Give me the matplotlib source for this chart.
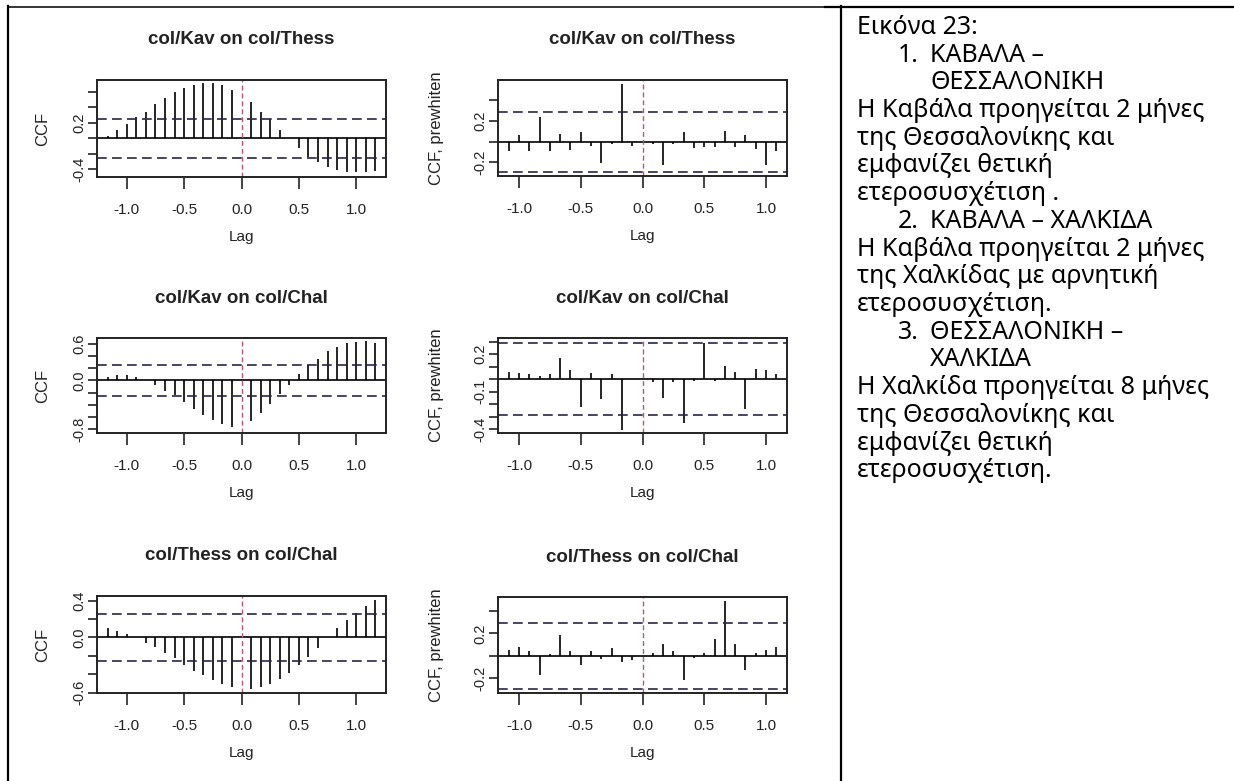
'''
Cross-correlation plots (plain and prewhitened) of the colour series for
Kavala, Thessaloniki and Chalkida, set in a two-cell table with the notes
that go with them.
'''

import numpy as np
import matplotlib
matplotlib.use('Agg')
import matplotlib.pyplot as plt
from matplotlib.lines import Line2D

plt.rcParams['lines.scale_dashes'] = False
plt.rcParams['font.family'] = ['Liberation Sans', 'DejaVu Sans']

W, H = 1234, 781

# lags in years (monthly data)
lags_ccf = np.arange(-14, 15) / 12.0
lags_pw = np.arange(-13, 14) / 12.0

nan = np.nan
ccf_kav_thess = [0.03, 0.11, 0.18, 0.27, 0.34, 0.44, 0.52, 0.60, 0.65, 0.69,
                 0.71, 0.71, 0.69, 0.63, nan, 0.47, 0.34, 0.25, 0.11, 0.005,
                 -0.12, -0.24, -0.31, -0.37, -0.41, -0.44, -0.44, -0.44, -0.42]
pw_kav_thess = [-0.095, 0.063, -0.095, 0.24, -0.095, 0.073, -0.08, 0.092,
                -0.038, -0.203, -0.02, 0.55, -0.038, nan, -0.02, -0.222,
                -0.02, 0.089, -0.063, -0.054, -0.054, 0.105, -0.054, 0.063,
                -0.076, -0.222, -0.092]
ccf_kav_chal = [0.055, 0.08, 0.08, 0.055, 0.005, -0.08, -0.18, -0.245, -0.36,
                -0.47, -0.56, -0.65, -0.71, -0.76, nan, -0.67, -0.53, -0.38,
                -0.22, -0.08, 0.10, 0.256, 0.355, 0.475, 0.545, 0.61, 0.627,
                0.638, 0.61]
pw_kav_chal = [0.061, 0.048, 0.04, 0.029, 0.04, 0.167, 0.074, -0.225, 0.048,
               -0.159, 0.04, -0.403, 0.003, nan, -0.024, -0.146, -0.024, -0.35,
               -0.013, 0.294, -0.013, 0.106, 0.061, -0.239, 0.082, 0.074, 0.04]
ccf_thess_chal = [0.098, 0.069, 0.033, 0.003, -0.058, -0.102, -0.164, -0.222,
                  -0.302, -0.364, -0.404, -0.465, -0.502, -0.538, nan, -0.556,
                  -0.538, -0.502, -0.455, -0.382, -0.302, -0.211, -0.113,
                  0.003, 0.098, 0.189, 0.262, 0.342, 0.407]
pw_thess_chal = [0.056, 0.08, 0.041, -0.166, 0.015, 0.184, 0.041, -0.077,
                 0.041, -0.03, 0.071, -0.053, -0.039, nan, 0.03, 0.104, 0.041,
                 -0.216, -0.018, 0.03, 0.154, 0.489, 0.104, -0.127, 0.03,
                 0.056, 0.08]

panel_titles = ['col/Kav on col/Thess', 'col/Kav on col/Thess',
                'col/Kav on col/Chal', 'col/Kav on col/Chal',
                'col/Thess on col/Chal', 'col/Thess on col/Chal']
panel_ylabels = ['CCF', 'CCF, prewhiten'] * 3
ci_levels = [0.255, 0.287, 0.255, 0.287, 0.255, 0.29]
y_limits = [(-0.50, 0.755), (-0.33, 0.59), (-0.862, 0.693),
            (-0.43, 0.33), (-0.604, 0.451), (-0.329, 0.524)]
y_ticks = [[-0.4, -0.2, 0.0, 0.2, 0.4, 0.6],
           [-0.2, 0.0, 0.2, 0.4],
           [-0.8, -0.6, -0.4, -0.2, 0.0, 0.2, 0.4, 0.6],
           [-0.4, -0.3, -0.2, -0.1, 0.0, 0.1, 0.2, 0.3],
           [-0.6, -0.4, -0.2, 0.0, 0.2, 0.4],
           [-0.2, 0.0, 0.2, 0.4]]
y_ticklabels = [['-0.4', '', '', '0.2', '', ''],
                ['-0.2', '', '0.2', ''],
                ['-0.8', '', '', '', '0.0', '', '', '0.6'],
                ['-0.4', '', '', '-0.1', '', '', '0.2', ''],
                ['-0.6', '', '', '0.0', '', '0.4'],
                ['-0.2', '', '0.2', '']]
x_ticks = [-1.0, -0.5, 0.0, 0.5, 1.0]
x_ticklabels = ['-1.0', '-0.5', '0.0', '0.5', '1.0']

notes = [
    (0, '', 'Εικόνα 23:'),
    (1, '1.', 'ΚΑΒΑΛΑ –'),
    (1, '', 'ΘΕΣΣΑΛΟΝΙΚΗ'),
    (0, '', 'Η Καβάλα προηγείται 2 μήνες'),
    (0, '', 'της Θεσσαλονίκης και'),
    (0, '', 'εμφανίζει θετική'),
    (0, '', 'ετεροσυσχέτιση .'),
    (1, '2.', 'ΚΑΒΑΛΑ – ΧΑΛΚΙΔΑ'),
    (0, '', 'Η Καβάλα προηγείται 2 μήνες'),
    (0, '', 'της Χαλκίδας με αρνητική'),
    (0, '', 'ετεροσυσχέτιση.'),
    (1, '3.', 'ΘΕΣΣΑΛΟΝΙΚΗ –'),
    (1, '', 'ΧΑΛΚΙΔΑ'),
    (0, '', 'Η Χαλκίδα προηγείται 8 μήνες'),
    (0, '', 'της Θεσσαλονίκης και'),
    (0, '', 'εμφανίζει θετική'),
    (0, '', 'ετεροσυσχέτιση.'),
]

# plot boxes in pixels: left, top, right, bottom
boxes = [(97, 80, 386, 177), (498, 80, 787, 176),
         (97, 338, 386, 433), (498, 338, 787, 433),
         (97, 596, 386, 693), (498, 597, 787, 693)]

INK = '#222222'


def fig_x(px):
    return px / W


def fig_y(py):
    return 1 - py / H


def drawCCF(fig, box, lags, values, ci, title, ylabel, ylim, yticks, yticklabels):
    '''
    Draws one R-style cross-correlation panel: vertical bars per lag, zero
    line, dashed confidence bounds and a red dashed marker at lag zero.
    '''
    x0, y0, x1, y1 = box
    bw, bh = x1 - x0, y1 - y0
    ax = fig.add_axes([fig_x(x0), fig_y(y1), bw / W, bh / H])

    values = np.asarray(values, dtype=float)
    keep = ~np.isnan(values)
    ax.vlines(lags[keep], 0, values[keep], colors='black', lw=1.2)
    ax.axhline(0, color='black', lw=1.2)
    for c in (ci, -ci):
        ax.axhline(c, color='#26264a', lw=1.2, dashes=(7.0, 3.8))
    ax.axvline(0, color='#c9506a', lw=1.0, dashes=(3.5, 2.2))

    span = lags.max() - lags.min()
    ax.set_xlim(lags.min() - 0.04 * span, lags.max() + 0.04 * span)
    ax.set_ylim(*ylim)

    ax.set_xticks(x_ticks)
    ax.set_xticklabels(x_ticklabels)
    ax.set_yticks(yticks)
    ax.set_yticklabels(yticklabels, rotation=90, va='center')
    ax.tick_params(axis='x', length=8.5, width=1.2, pad=10.5, labelsize=11,
                   color=INK, labelcolor=INK)
    ax.tick_params(axis='y', length=6.5, width=1.2, pad=1.0, labelsize=10.5,
                   color=INK, labelcolor=INK)
    for sp in ax.spines.values():
        sp.set_linewidth(1.4)
        sp.set_color(INK)

    ax.set_title(title, fontsize=13.5, fontweight='bold', color=INK,
                 y=1 + 40.0 / bh, va='center', pad=0)
    ax.set_xlabel('Lag', fontsize=11, color=INK, va='center')
    ax.xaxis.set_label_coords(0.5, -60.0 / bh)
    ax.set_ylabel(ylabel, fontsize=12, color=INK, va='center')
    off = 54.0 if ylabel == 'CCF' else 61.0
    ax.yaxis.set_label_coords(-off / bw, 0.5)
    return ax


def drawTable(fig):
    '''
    Draws the table rules and the notes cell on the right.
    '''
    rules = [((8, 6.5), (1234, 6.5), 1.1),
             ((825, 6.5), (1234, 6.5), 1.6),
             ((8, 6), (8, 781), 1.6),
             ((840.5, 6), (840.5, 781), 1.6)]
    for (xa, ya), (xb, yb), lw in rules:
        fig.add_artist(Line2D([fig_x(xa), fig_x(xb)], [fig_y(ya), fig_y(yb)],
                              color='black', lw=lw))

    base = 34.0
    step = 27.7
    fam = ['Noto Sans', 'DejaVu Sans']
    for i, (indent, num, text) in enumerate(notes):
        yb = base + i * step
        if num:
            fig.text(fig_x(898), fig_y(yb), num, fontsize=18, va='baseline',
                     family=fam, color='black')
        x = 930 if indent else 857
        fig.text(fig_x(x), fig_y(yb), text, fontsize=18, va='baseline',
                 family=fam, color='black')


if __name__ == '__main__':
    fig = plt.figure(figsize=(W / 100, H / 100), dpi=100)
    fig.patch.set_facecolor('white')

    series = [(lags_ccf, ccf_kav_thess), (lags_pw, pw_kav_thess),
              (lags_ccf, ccf_kav_chal), (lags_pw, pw_kav_chal),
              (lags_ccf, ccf_thess_chal), (lags_pw, pw_thess_chal)]
    for p, (lags, vals) in enumerate(series):
        drawCCF(fig, boxes[p], lags, vals, ci_levels[p], panel_titles[p],
                panel_ylabels[p], y_limits[p], y_ticks[p], y_ticklabels[p])

    drawTable(fig)
    fig.savefig('out.png', dpi=100)
